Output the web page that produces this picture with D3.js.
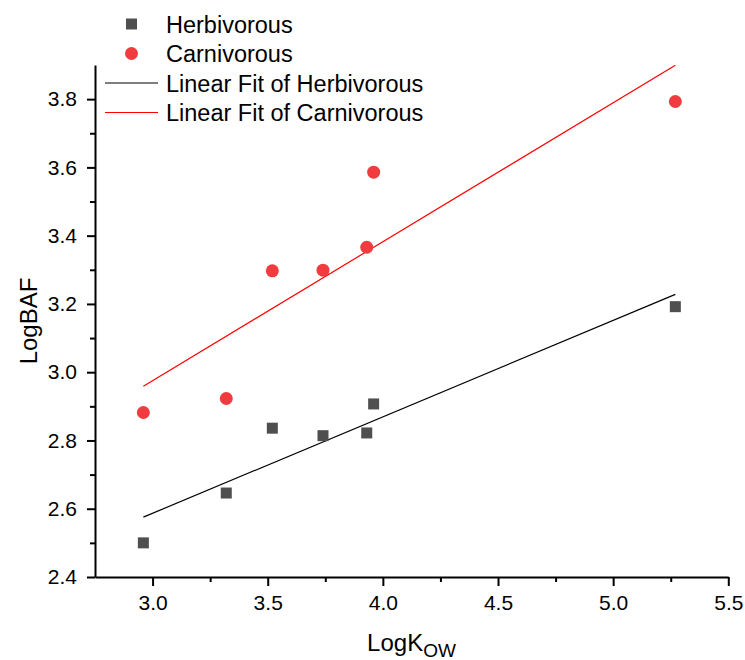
<!DOCTYPE html>
<html>
<head>
<meta charset="utf-8">
<script src="https://cdn.jsdelivr.net/npm/d3@7"></script>
<style>
  body { margin: 0; background: #fff; }
  svg { font-family: "Liberation Sans", Arial, sans-serif; }
</style>
</head>
<body>
<svg width="745" height="660"></svg>
<script>
// values
const logKow = [2.96, 3.32, 3.52, 3.74, 3.93, 3.96, 5.27];
const herbivorous = [2.50, 2.646, 2.836, 2.814, 2.822, 2.907, 3.192];
const carnivorous = [2.882, 2.923, 3.297, 3.299, 3.366, 3.586, 3.793];
const xTicks = [3.0, 3.5, 4.0, 4.5, 5.0, 5.5];
const yTicks = [2.4, 2.6, 2.8, 3.0, 3.2, 3.4, 3.6, 3.8];
const seriesNames = ['Herbivorous', 'Carnivorous'];

const svg = d3.select('svg');

const xScale = d3.scaleLinear().domain([2.75, 5.5]).range([95, 728.3]);
const yScale = d3.scaleLinear().domain([2.4, 3.9]).range([577, 65]);

// minor ticks
const xMinor = d3.range(3.25, 5.5, 0.5);
const yMinor = d3.range(2.5, 3.9, 0.2);

svg.append('g')
  .attr('transform', 'translate(0,577)')
  .call(d3.axisBottom(xScale).tickValues(xMinor).tickSize(5).tickFormat(''))
  .call(g => g.select('.domain').remove())
  .call(g => g.selectAll('line').attr('stroke-width', 2));

svg.append('g')
  .attr('transform', 'translate(95,0)')
  .call(d3.axisLeft(yScale).tickValues(yMinor).tickSize(5).tickFormat(''))
  .call(g => g.select('.domain').remove())
  .call(g => g.selectAll('line').attr('stroke-width', 2));

const xAxis = d3.axisBottom(xScale)
  .tickValues(xTicks)
  .tickSize(9)
  .tickSizeOuter(0)
  .tickPadding(9)
  .tickFormat(d3.format('.1f'));

svg.append('g')
  .attr('id', 'xAxisG')
  .attr('transform', 'translate(0,577)')
  .call(xAxis)
  .call(g => g.selectAll('line, path').attr('stroke-width', 2))
  .call(g => g.selectAll('text').attr('font-size', 21).attr('fill', '#000'));

const yAxis = d3.axisLeft(yScale)
  .tickValues(yTicks)
  .tickSize(8)
  .tickSizeOuter(0)
  .tickPadding(10)
  .tickFormat(d3.format('.1f'));

svg.append('g')
  .attr('id', 'yAxisG')
  .attr('transform', 'translate(95,0)')
  .call(yAxis)
  .call(g => g.selectAll('line, path').attr('stroke-width', 2))
  .call(g => g.selectAll('text').attr('font-size', 21).attr('fill', '#000'));

// axis titles
const xTitle = svg.append('text')
  .attr('x', 411.5)
  .attr('y', 651)
  .attr('text-anchor', 'middle')
  .attr('font-size', 24);
xTitle.append('tspan').text('LogK');
xTitle.append('tspan').attr('font-size', 19).attr('dy', 6).text('OW');

svg.append('text')
  .attr('transform', 'translate(37,321) rotate(-90)')
  .attr('text-anchor', 'middle')
  .attr('font-size', 24)
  .text('LogBAF');

// linear fits (least squares)
function fit(xs, ys) {
  const mx = d3.mean(xs), my = d3.mean(ys);
  const sxy = d3.sum(xs, (x, i) => (x - mx) * (ys[i] - my));
  const sxx = d3.sum(xs, x => (x - mx) * (x - mx));
  const b = sxy / sxx;
  return x => my + b * (x - mx);
}

const fitColors = ['#000', '#ff0000'];
[herbivorous, carnivorous].forEach((ys, k) => {
  const f = fit(logKow, ys);
  const ext = d3.extent(logKow);
  svg.append('line')
    .attr('x1', xScale(ext[0]))
    .attr('y1', yScale(f(ext[0])))
    .attr('x2', xScale(ext[1]))
    .attr('y2', yScale(f(ext[1])))
    .attr('stroke', fitColors[k])
    .attr('stroke-width', 1.2);
});

// points
svg.selectAll('rect.herb')
  .data(logKow)
  .enter()
  .append('rect')
  .attr('class', 'herb')
  .attr('x', (d, i) => xScale(d) - 5.5)
  .attr('y', (d, i) => yScale(herbivorous[i]) - 5.5)
  .attr('width', 11)
  .attr('height', 11)
  .style('fill', '#4f4f4f');

svg.selectAll('circle.carn')
  .data(logKow)
  .enter()
  .append('circle')
  .attr('class', 'carn')
  .attr('cx', d => xScale(d))
  .attr('cy', (d, i) => yScale(carnivorous[i]))
  .attr('r', 6.5)
  .style('fill', '#f03c3f');

// legend
const legend = svg.append('g').attr('font-size', 23.5);
const rowY = [24, 53.5, 83, 112.5];
const labels = seriesNames.concat(seriesNames.map(n => 'Linear Fit of ' + n));

legend.append('rect')
  .attr('x', 131.5 - 5.5).attr('y', rowY[0] - 5.5)
  .attr('width', 11).attr('height', 11)
  .style('fill', '#4f4f4f');
legend.append('circle')
  .attr('cx', 131.5).attr('cy', rowY[1]).attr('r', 6.5)
  .style('fill', '#f03c3f');
legend.append('line')
  .attr('x1', 105).attr('x2', 158).attr('y1', rowY[2]).attr('y2', rowY[2])
  .attr('stroke', '#000').attr('stroke-width', 1.2);
legend.append('line')
  .attr('x1', 105).attr('x2', 158).attr('y1', rowY[3]).attr('y2', rowY[3])
  .attr('stroke', '#ff0000').attr('stroke-width', 1.2);

legend.selectAll('text')
  .data(labels)
  .enter()
  .append('text')
  .attr('x', 166)
  .attr('y', (d, i) => rowY[i] + 8.5)
  .text(d => d);
</script>
</body>
</html>
